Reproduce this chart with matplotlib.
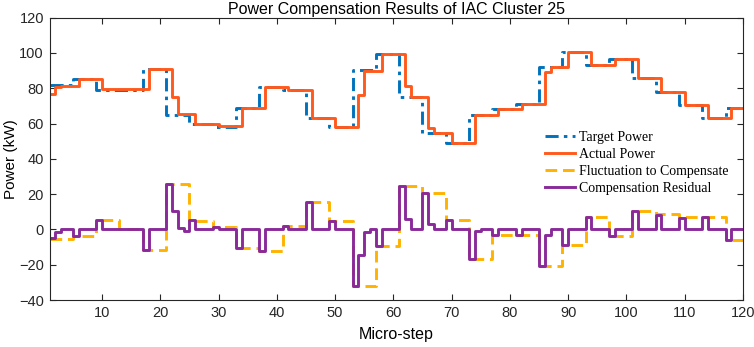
import numpy as np
import matplotlib
matplotlib.use("Agg")
import matplotlib.pyplot as plt

plt.rcParams['font.family'] = ['Liberation Sans', 'DejaVu Sans']

# target power, one value per block of 4 micro-steps (block start)
target_x = [1, 5, 9, 13, 17, 21, 25, 29, 33, 37, 41, 45, 49, 53, 57,
            61, 65, 69, 73, 77, 81, 85, 89, 93, 97, 101, 105, 109, 113, 117]
target_y = [82, 85, 79, 79.3, 91, 65, 59.6, 58.3, 68.7, 81, 79, 63, 58.2, 90.4, 99.2,
            75.3, 54.6, 48.8, 65, 68, 71, 92, 100.6, 93.2, 96.4, 86, 77.7, 70.5, 63.3, 69]

# fluctuation to compensate, same blocks
fluct_y = [-5.2, -4, 5.5, 0.3, -11.8, 26, 5, 1.3, -10.5, -12.5, 2, 15.8, 4.6, -32.3, -9.5,
           24.5, 20.5, 5.5, -17, -3.1, -3, -21, -8.7, 7.3, -3.8, 10.2, 9, 7, 7.2, -5.8]

# actual power, change points
actual_x = [1, 2, 3, 6, 10, 18, 22, 23, 26, 30, 34, 38, 42, 46, 50, 54, 55, 58,
            62, 63, 66, 67, 70, 74, 78, 82, 86, 87, 90, 94, 98, 102, 106, 110, 114, 118]
actual_y = [77, 81, 81.5, 85, 79.5, 91, 75.3, 65.4, 59.8, 58.6, 68.7, 81, 79, 63, 58.2, 76.2, 89.8, 99.2,
            81.5, 75.3, 57.3, 54.6, 48.8, 65, 68, 71, 89.4, 92, 100.6, 93.2, 96.4, 86, 77.7, 70.5, 63.3, 69]

# compensation residual, change points
resid_x = [1, 2, 3, 5, 6, 9, 10, 17, 18, 21, 22, 23, 24, 25, 26, 29, 30, 33, 34, 37, 38,
           41, 42, 45, 46, 49, 50, 53, 54, 55, 56, 57, 58, 61, 62, 63, 65, 66, 67, 69, 70,
           73, 74, 75, 77, 78, 81, 82, 85, 86, 87, 89, 90, 93, 94, 97, 98, 101, 102,
           105, 106, 109, 110, 113, 114, 117, 118]
resid_y = [-5, -1.2, 0, -4, 0, 5.5, 0, -11.8, 0, 26, 10.2, 1, -0.8, 5.6, 0, 1.3, 0, -10.5, 0, -12.5, 0,
           2, 0, 15.8, 0, 4.6, 0, -32.3, -14.3, -1.2, 0, -9.5, 0, 24.5, 5.8, 0, 20.5, 3.3, 0, 5.5, 0,
           -17, -1, 0, -3.1, 0, -3, 0, -21, -3.2, 0, -8.7, 0, 7.3, 0, -3.8, 0, 10.2, 0,
           8.2, 0, 6.5, 0, 7, 0, -5.8, 0]

x_end = 121


def stepdata(xs, ys):
    return np.append(xs, x_end), np.append(ys, ys[-1])


fig = plt.figure(figsize=(7.54, 3.47), dpi=100)
ax = fig.add_axes([0.0657, 0.1354, 0.9197, 0.8136])

lw = 2.1
x, y = stepdata(target_x, target_y)
ax.step(x, y, where='post', color='#0072BD', lw=lw, linestyle=(0, (4.5, 1.8, 1.2, 1.8)),
        label='Target Power')
x, y = stepdata(actual_x, actual_y)
ax.step(x, y, where='post', color='#FF5A1E', lw=lw, label='Actual Power')
x, y = stepdata(target_x, fluct_y)
ax.step(x, y, where='post', color='#FFB300', lw=lw, linestyle=(0, (4, 2)),
        label='Fluctuation to Compensate')
x, y = stepdata(resid_x, resid_y)
ax.step(x, y, where='post', color='#8A2A9A', lw=lw, label='Compensation Residual')

ax.set_xlim(1, 120)
ax.set_ylim(-40, 120)
ax.set_xticks(np.arange(10, 121, 10))
ax.set_yticks(np.arange(-40, 121, 20))
ax.tick_params(direction='in', top=True, right=True, length=4, labelsize=10.5,
               colors='#262626', pad=4)
for s in ax.spines.values():
    s.set_color('#262626')
    s.set_linewidth(0.8)

ax.set_title('Power Compensation Results of IAC Cluster 25', fontsize=11.5, pad=3)
ax.set_xlabel('Micro-step', fontsize=11.5, labelpad=5)
ax.set_ylabel('Power (kW)', fontsize=11, labelpad=1)

ax.legend(loc='upper left', bbox_to_anchor=(0.7, 0.632), frameon=False,
          prop={'family': 'Liberation Serif', 'size': 10}, handlelength=2.2,
          handletextpad=0.3, labelspacing=0.28, borderpad=0.2)

fig.savefig('out.png', dpi=100)
